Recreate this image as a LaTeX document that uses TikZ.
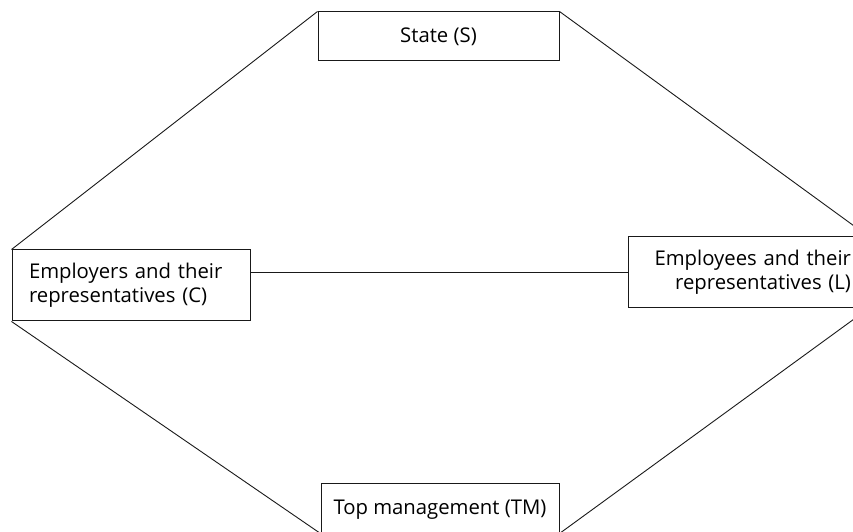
\documentclass[tikz,border=0pt]{standalone}
\usepackage{fontspec}
\setmainfont{Open Sans}
\begin{document}
\begin{tikzpicture}[x=1pt,y=1pt,
  box/.style={draw=black!90, line width=1pt, rectangle, fill=white,
    font=\fontsize{20.3}{24}\selectfont},
  conn/.style={draw=black!90, line width=0.9pt}]
\useasboundingbox (0,0) rectangle (853,532);
\node[box, minimum width=241pt, minimum height=49pt, inner sep=0pt] (S) at (438.5,495.5) {State (S)};
\node[box, text width=204pt, inner xsep=17pt, inner ysep=0pt, minimum height=71pt, align=left] (C) at (131,246.5) {Employers and their\\representatives (C)};
\node[box, text width=206pt, inner xsep=17pt, inner ysep=0pt, minimum height=71pt, align=right] (L) at (748,259.5) {Employees and their\\representatives (L)};
\node[box, minimum width=238pt, minimum height=49pt, inner sep=0pt, text depth=0pt] (TM) at (440,23.5) {\raisebox{2pt}{Top management (TM)}};
\draw[conn] (S.north west) -- (C.north west);
\draw[conn] (S.north east) -- (L.north east);
\draw[conn] (C.south west) -- (TM.south west);
\draw[conn] (L.south east) -- (TM.south east);
\draw[conn] (L.west -| C.east) -- (L.west);
\end{tikzpicture}
\end{document}
